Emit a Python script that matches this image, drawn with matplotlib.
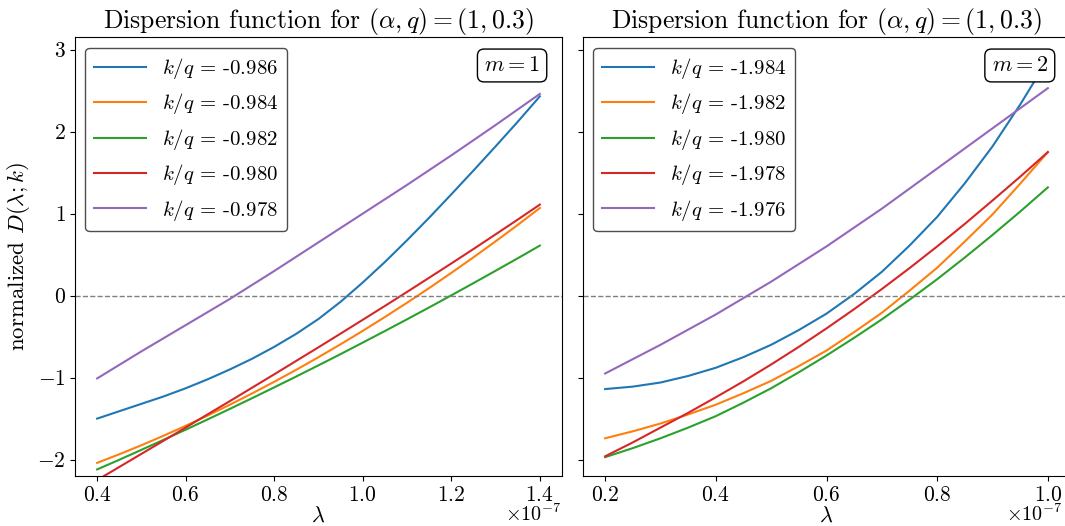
import matplotlib
matplotlib.use("Agg")
import matplotlib.pyplot as plt
import matplotlib.transforms as mtransforms
import numpy as np

plt.rcParams.update({
    "font.family": "serif",
    "font.serif": ["cmr10"],
    "mathtext.fontset": "cm",
    "axes.formatter.use_mathtext": True,
    "axes.unicode_minus": True,
    "font.size": 16,
})

SCALE = 1e-7
# m = 1 panel (lambda in units of 1e-7)
lam_m1 = [0.40, 0.45, 0.50, 0.55, 0.60, 0.65, 0.70, 0.75, 0.80, 0.85, 0.90,
          0.95, 1.00, 1.05, 1.10, 1.15, 1.20, 1.25, 1.30, 1.35, 1.40]
kq_m1 = [-0.986, -0.984, -0.982, -0.980, -0.978]
D_m1 = [
    [-1.50, -1.41, -1.32, -1.23, -1.13, -1.02, -0.90, -0.77, -0.625, -0.465, -0.285,
     -0.075, 0.16, 0.41, 0.675, 0.95, 1.235, 1.525, 1.82, 2.12, 2.43],
    [-2.04, -1.935, -1.825, -1.709, -1.588, -1.462, -1.330, -1.193, -1.051, -0.904, -0.751,
     -0.593, -0.430, -0.261, -0.087, 0.092, 0.277, 0.467, 0.662, 0.862, 1.068],
    [-2.12, -2.002, -1.881, -1.759, -1.635, -1.509, -1.381, -1.251, -1.119, -0.986, -0.850,
     -0.713, -0.573, -0.432, -0.289, -0.144, 0.003, 0.152, 0.303, 0.455, 0.61],
    [-2.25, -2.09, -1.93, -1.77, -1.609, -1.447, -1.286, -1.123, -0.960, -0.795, -0.630,
     -0.463, -0.295, -0.126, 0.045, 0.218, 0.392, 0.568, 0.747, 0.927, 1.11],
    [-1.01, -0.845, -0.68, -0.52, -0.36, -0.20, -0.04, 0.13, 0.30, 0.475, 0.65,
     0.825, 1.00, 1.175, 1.35, 1.53, 1.71, 1.895, 2.08, 2.27, 2.46],
]
# m = 2 panel
lam_m2 = [0.20, 0.25, 0.30, 0.35, 0.40, 0.45, 0.50, 0.55, 0.60,
          0.65, 0.70, 0.75, 0.80, 0.85, 0.90, 0.95, 1.00]
kq_m2 = [-1.984, -1.982, -1.980, -1.978, -1.976]
D_m2 = [
    [-1.14, -1.11, -1.06, -0.98, -0.88, -0.75, -0.60, -0.42, -0.22,
     0.02, 0.29, 0.61, 0.96, 1.37, 1.82, 2.33, 2.88],
    [-1.74, -1.655, -1.56, -1.45, -1.33, -1.19, -1.04, -0.86, -0.67,
     -0.445, -0.21, 0.06, 0.34, 0.66, 0.99, 1.365, 1.75],
    [-1.97, -1.86, -1.74, -1.61, -1.47, -1.305, -1.13, -0.935, -0.73,
     -0.515, -0.29, -0.05, 0.20, 0.465, 0.74, 1.025, 1.32],
    [-1.96, -1.79, -1.61, -1.43, -1.24, -1.045, -0.84, -0.625, -0.40,
     -0.165, 0.08, 0.335, 0.60, 0.875, 1.16, 1.45, 1.75],
    [-0.95, -0.775, -0.60, -0.415, -0.23, -0.03, 0.17, 0.385, 0.60,
     0.83, 1.06, 1.305, 1.55, 1.795, 2.04, 2.285, 2.53],
]
colors = ["#1f77b4", "#ff7f0e", "#2ca02c", "#d62728", "#9467bd"]

W, H = 1065, 526
fig = plt.figure(figsize=(W / 100, H / 100), dpi=100)
bottom = (H - 476) / H
height = 438.7 / H
ax1 = fig.add_axes([75 / W, bottom, 487 / W, height])
ax2 = fig.add_axes([583 / W, bottom, 487 / W, height], sharey=ax1)

panels = [(ax1, lam_m1, kq_m1, D_m1, 1, 0), (ax2, lam_m2, kq_m2, D_m2, 2, -7)]
for ax, lam, kqs, Ds, m, dx in panels:
    x = np.array(lam) * SCALE
    for kq, d, c in zip(kqs, Ds, colors):
        ax.plot(x, d, color=c, lw=1.5, label=rf"$k/q$ = {kq:.3f}")
    ax.axhline(0, color="gray", ls="--", lw=1)
    ax.set_title(r"Dispersion function for $(\alpha, q) = (1, 0.3)$", fontsize=18.5)
    ax.set_xlabel(r"$\lambda$", fontsize=16, labelpad=1)
    leg = ax.legend(loc="upper left", fontsize=15, framealpha=1.0, handlelength=2.5)
    leg.get_frame().set_edgecolor("0.3")
    ax.text(0.955, 0.958, rf"$m = {m}$", transform=ax.transAxes, ha="right", va="top",
            fontsize=16, bbox=dict(boxstyle="round", fc="white", ec="black"))
    ax.tick_params(labelsize=15.5, pad=3)
    ot = ax.xaxis.get_offset_text()
    ot.set_fontsize(14.5)
    ot.set_transform(ot.get_transform()
                     + mtransforms.ScaledTranslation(dx / 100, 4 / 72, fig.dpi_scale_trans))

ax1.set_ylim(-2.2, 3.15)
ax1.set_ylabel(r"normalized $D(\lambda; k)$", fontsize=16.5)
ax2.tick_params(labelleft=False)

fig.savefig("out.png", dpi=100)
